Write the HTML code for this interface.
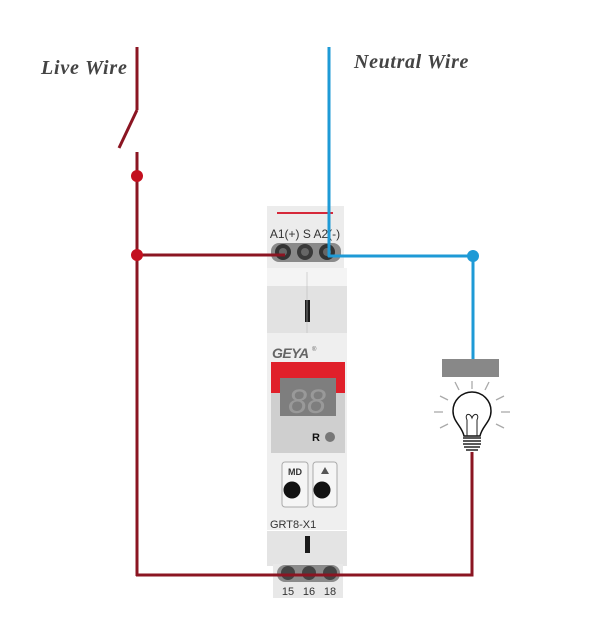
<!DOCTYPE html>
<html><head><meta charset="utf-8"><style>
html,body{margin:0;padding:0;background:#fff;}
svg{display:block;}
</style></head><body>
<svg width="611" height="643" viewBox="0 0 611 643" xmlns="http://www.w3.org/2000/svg">
<rect width="611" height="643" fill="#fff"/>
<!-- labels -->
<text x="41" y="74" font-family="Liberation Serif, serif" font-style="italic" font-weight="bold" font-size="20" letter-spacing="0.8" fill="#444">Live Wire</text>
<text x="354" y="68" font-family="Liberation Serif, serif" font-style="italic" font-weight="bold" font-size="20" letter-spacing="0.65" fill="#444">Neutral Wire</text>

<!-- device body -->
<g>
  <!-- top terminal block -->
  <rect x="267" y="206" width="77" height="62" fill="#ececec"/>
  <line x1="277" y1="213" x2="333" y2="213" stroke="#d6283a" stroke-width="2"/>
  <text x="305" y="238" text-anchor="middle" font-family="Liberation Sans, sans-serif" font-size="12" fill="#333">A1(+) S A2(-)</text>
  <rect x="271" y="243" width="70" height="19" rx="8" fill="#8a8a8a"/>
  <circle cx="283" cy="252" r="8" fill="#333"/>
  <circle cx="305" cy="252" r="8" fill="#3a3a3a"/>
  <circle cx="327" cy="252" r="8" fill="#333"/>
  <circle cx="283" cy="252" r="4" fill="#666"/>
  <circle cx="305" cy="252" r="4" fill="#666"/>
  <circle cx="327" cy="252" r="4" fill="#666"/>
  <rect x="267" y="268" width="80" height="18" fill="#f4f4f4"/>
  <rect x="267" y="286" width="80" height="47" fill="#e2e2e2"/>
  <rect x="305" y="300" width="5" height="22" fill="#1a1a1a"/>
  <line x1="307" y1="272" x2="307" y2="333" stroke="#bbb" stroke-width="0.6"/>
  <!-- main body -->
  <rect x="267" y="333" width="80" height="197" fill="#efefef"/>
  <text x="272" y="358" font-family="Liberation Sans, sans-serif" font-weight="bold" font-style="italic" font-size="14" fill="#666" letter-spacing="-0.5">GEYA</text>
  <text x="312" y="351" font-family="Liberation Sans, sans-serif" font-size="6" fill="#666">®</text>
  <rect x="271" y="362" width="74" height="91" fill="#cfcfcf"/>
  <rect x="271" y="362" width="74" height="31" fill="#e0202a"/>
  <rect x="280" y="378" width="56" height="38" fill="#7e7e7e"/>
  <text x="307" y="413" text-anchor="middle" font-family="Liberation Sans, sans-serif" font-size="34" fill="#999" font-style="italic">88</text>
  <text x="316" y="441" text-anchor="middle" font-family="Liberation Sans, sans-serif" font-weight="bold" font-size="11" fill="#111">R</text>
  <circle cx="330" cy="437" r="5" fill="#777"/>
  <!-- buttons -->
  <rect x="282" y="462" width="26" height="45" rx="3" fill="#f5f5f5" stroke="#aaa" stroke-width="1"/>
  <rect x="313" y="462" width="24" height="45" rx="3" fill="#f5f5f5" stroke="#aaa" stroke-width="1"/>
  <text x="295" y="475" text-anchor="middle" font-family="Liberation Sans, sans-serif" font-weight="bold" font-size="9" fill="#333">MD</text>
  <polygon points="325,467 329,474 321,474" fill="#555"/>
  <circle cx="292" cy="490" r="8.5" fill="#111"/>
  <circle cx="322" cy="490" r="8.5" fill="#111"/>
  <text x="270" y="528" font-family="Liberation Sans, sans-serif" font-size="11" fill="#333">GRT8-X1</text>
  <rect x="267" y="531" width="80" height="35" fill="#e4e4e4"/>
  <rect x="305" y="536" width="5" height="17" fill="#1a1a1a"/>
  <!-- bottom terminals -->
  <rect x="273" y="564" width="70" height="34" fill="#e8e8e8"/>
  <rect x="277" y="565" width="63" height="17" rx="8" fill="#8a8a8a"/>
  <circle cx="288" cy="573" r="7" fill="#444"/>
  <circle cx="309" cy="573" r="7" fill="#444"/>
  <circle cx="330" cy="573" r="7" fill="#444"/>
  <text x="288" y="595" text-anchor="middle" font-family="Liberation Sans, sans-serif" font-size="11" fill="#333">15</text>
  <text x="309" y="595" text-anchor="middle" font-family="Liberation Sans, sans-serif" font-size="11" fill="#333">16</text>
  <text x="330" y="595" text-anchor="middle" font-family="Liberation Sans, sans-serif" font-size="11" fill="#333">18</text>
</g>

<!-- red wires -->
<g stroke="#8b1522" stroke-width="3" fill="none">
  <line x1="137" y1="47" x2="137" y2="110"/>
  <line x1="137" y1="110" x2="119" y2="148"/>
  <line x1="137" y1="152" x2="137" y2="576"/>
  <line x1="136" y1="255" x2="285" y2="255"/>
  <polyline points="136,575 472,575 472,452"/>
</g>
<circle cx="137" cy="176" r="6" fill="#c3101f"/>
<circle cx="137" cy="255" r="6" fill="#c3101f"/>

<!-- blue wires -->
<g stroke="#1e9ad6" stroke-width="3" fill="none">
  <line x1="329" y1="47" x2="329" y2="257"/>
  <polyline points="328,256 473,256 473,360"/>
</g>
<circle cx="473" cy="256" r="6" fill="#1e9ad6"/>

<!-- lamp -->
<rect x="442" y="359" width="57" height="18" fill="#888"/>
<g stroke="#aaa" stroke-width="1.3">
  <line x1="472" y1="381" x2="472" y2="389"/>
  <line x1="455" y1="382" x2="459" y2="390"/>
  <line x1="489" y1="382" x2="485" y2="390"/>
  <line x1="440" y1="396" x2="448" y2="400"/>
  <line x1="504" y1="396" x2="496" y2="400"/>
  <line x1="434" y1="412" x2="443" y2="412"/>
  <line x1="510" y1="412" x2="501" y2="412"/>
  <line x1="440" y1="428" x2="448" y2="424"/>
  <line x1="504" y1="428" x2="496" y2="424"/>
</g>
<path d="M464,436 C462,426 453,422 453,411 A19,19 0 1 1 491,411 C491,422 482,426 480,436 Z" fill="#fff" stroke="#111" stroke-width="1.5"/>
<path d="M467,436 L467,420 C464,414 470,412 472,418 C474,412 480,414 477,420 L477,436" fill="none" stroke="#222" stroke-width="1"/>
<g stroke="#222" stroke-width="1.5">
  <line x1="463" y1="438" x2="481" y2="438"/>
  <line x1="463" y1="441" x2="481" y2="441"/>
  <line x1="463" y1="444" x2="481" y2="444"/>
  <line x1="464" y1="447" x2="480" y2="447"/>
  <line x1="466" y1="450" x2="478" y2="450"/>
</g>
</svg>
</body></html>
